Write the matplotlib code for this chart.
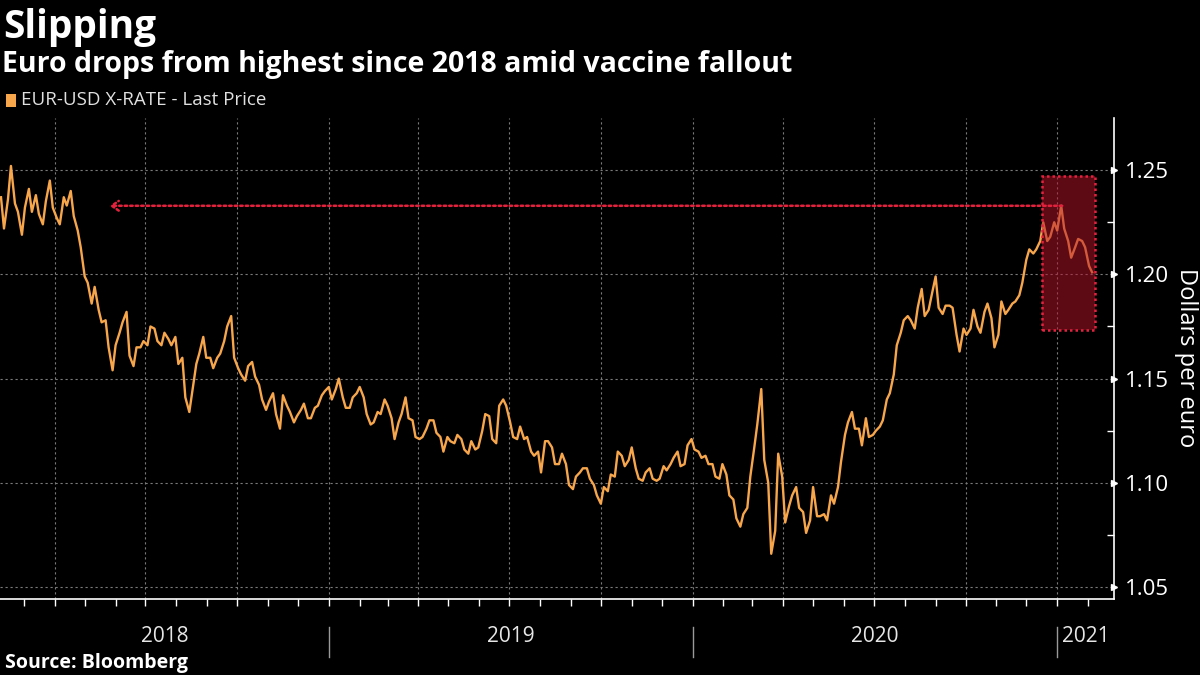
import matplotlib
matplotlib.use('Agg')
import matplotlib.pyplot as plt
import matplotlib.dates as mdates
import matplotlib.transforms as mtransforms
import matplotlib.patches as mpatches
import pandas as pd
import numpy as np

plt.rcParams['font.family'] = ['Open Sans', 'DejaVu Sans']

# ---- data: EUR-USD, twice weekly (Tue, Fri), Feb 2018 - Feb 2021 ----
start_tue = '2018-02-06'
end_tue = '2021-02-02'
start_fri = '2018-02-09'
end_fri = '2021-02-05'

eurusd = [
    # 2018
    1.237, 1.222, 1.236, 1.252, 1.234, 1.230, 1.219, 1.232, 1.241, 1.230,
    1.238, 1.229, 1.224, 1.235, 1.245, 1.232, 1.227, 1.224, 1.237, 1.233,
    1.240, 1.228, 1.221, 1.213, 1.199, 1.196, 1.186, 1.194, 1.183, 1.177,
    1.178, 1.165, 1.154, 1.166, 1.172, 1.177, 1.182, 1.161, 1.156, 1.165,
    1.165, 1.168, 1.166, 1.175, 1.174, 1.168, 1.166, 1.172, 1.169, 1.166,
    1.170, 1.157, 1.160, 1.141, 1.134, 1.144, 1.157, 1.162, 1.170, 1.160,
    1.160, 1.155, 1.160, 1.162, 1.168, 1.175, 1.180, 1.160, 1.155, 1.152,
    1.149, 1.156, 1.158, 1.151, 1.147, 1.140, 1.135, 1.139, 1.143, 1.133,
    1.126, 1.142, 1.137, 1.134, 1.129, 1.132, 1.135, 1.138, 1.131, 1.131,
    1.136, 1.137, 1.142, 1.144,
    # 2019
    1.146, 1.140, 1.145, 1.150, 1.141, 1.136, 1.136, 1.141, 1.143, 1.146,
    1.141, 1.133, 1.128, 1.129, 1.134, 1.133, 1.140, 1.137, 1.131, 1.121,
    1.129, 1.133, 1.141, 1.131, 1.130, 1.122, 1.121, 1.122, 1.126, 1.130,
    1.130, 1.124, 1.122, 1.115, 1.122, 1.120, 1.119, 1.123, 1.121, 1.116,
    1.114, 1.120, 1.116, 1.117, 1.125, 1.133, 1.132, 1.121, 1.119, 1.137,
    1.140, 1.137, 1.129, 1.122, 1.121, 1.127, 1.121, 1.122, 1.115, 1.113,
    1.115, 1.105, 1.120, 1.120, 1.117, 1.109, 1.109, 1.114, 1.109, 1.099,
    1.097, 1.103, 1.105, 1.107, 1.107, 1.102, 1.099, 1.094, 1.090, 1.098,
    1.096, 1.104, 1.103, 1.115, 1.113, 1.108, 1.111, 1.117, 1.107, 1.102,
    1.101, 1.105, 1.107, 1.102, 1.101, 1.102, 1.108, 1.106, 1.109, 1.112,
    1.115, 1.108, 1.109, 1.118,
    # 2020
    1.121, 1.116, 1.115, 1.112, 1.113, 1.109, 1.109, 1.103, 1.102, 1.109,
    1.104, 1.094, 1.092, 1.083, 1.079, 1.085, 1.088, 1.103, 1.117, 1.128,
    1.145, 1.111, 1.100, 1.066, 1.077, 1.114, 1.103, 1.081, 1.089, 1.094,
    1.098, 1.088, 1.086, 1.076, 1.082, 1.098, 1.084, 1.084, 1.085, 1.082,
    1.094, 1.090, 1.098, 1.110, 1.123, 1.129, 1.134, 1.126, 1.126, 1.118,
    1.131, 1.122, 1.123, 1.125, 1.127, 1.130, 1.140, 1.143, 1.152, 1.166,
    1.172, 1.178, 1.180, 1.178, 1.174, 1.184, 1.193, 1.180, 1.183, 1.190,
    1.199, 1.184, 1.181, 1.185, 1.185, 1.184, 1.171, 1.163, 1.174, 1.171,
    1.174, 1.183, 1.175, 1.172, 1.182, 1.186, 1.179, 1.165, 1.171, 1.187,
    1.181, 1.183, 1.186, 1.187, 1.190, 1.196, 1.207, 1.212, 1.210, 1.212,
    1.216, 1.225, 1.216, 1.218, 1.225, 1.221,
    # 2021
    1.233, 1.222, 1.216, 1.208, 1.213, 1.217, 1.216, 1.213, 1.204, 1.201,
]

# annotation values
peak_level = 1.2329
arrow_start = '2018-05-26'
peak_date = '2021-01-06'
box_dates = ['2020-12-17', '2021-02-08']
box_levels = [1.1735, 1.247]

yticks_major = [1.05, 1.10, 1.15, 1.20, 1.25]
yticks_minor = [1.075, 1.125, 1.175, 1.225]
year_labels = ['2018', '2019', '2020', '2021']
xlim = ['2018-02-05', '2021-02-27']
ylim = [1.0443, 1.275]

# ---- colours ----
BG = '#000000'
ORANGE = '#f7a64c'
RED = '#e3223d'
GRID = '#7a7a7a'

tue = pd.date_range(start_tue, end_tue, freq='W-TUE')
fri = pd.date_range(start_fri, end_fri, freq='W-FRI')
dates = tue.append(fri).sort_values()
series = pd.Series(eurusd[:len(dates)], index=dates[:len(eurusd)])

fig = plt.figure(figsize=(12, 6.75), dpi=100, facecolor=BG)
ax = fig.add_axes([0.0, 1 - 599 / 675, 1114 / 1200, (599 - 118) / 675])
ax.set_facecolor(BG)

ax.plot(series.index, series.values, color=ORANGE, lw=1.7, zorder=3)

x0, x1 = pd.Timestamp(xlim[0]), pd.Timestamp(xlim[1])
ax.set_xlim(x0, x1)
ax.set_ylim(*ylim)

# highlight box
bx0 = mdates.date2num(pd.Timestamp(box_dates[0]))
bx1 = mdates.date2num(pd.Timestamp(box_dates[1]))
ax.add_patch(mpatches.Rectangle((bx0, box_levels[0]), bx1 - bx0, box_levels[1] - box_levels[0],
                                facecolor='#b3142a', alpha=0.52, edgecolor='none', zorder=4))
ax.add_patch(mpatches.Rectangle((bx0, box_levels[0]), bx1 - bx0, box_levels[1] - box_levels[0],
                                facecolor='none', edgecolor=RED, lw=1.8,
                                linestyle=(0, (1, 1.2)), zorder=5))

# dotted arrow back to 2018
ax.annotate('', xy=(pd.Timestamp(arrow_start), peak_level),
            xytext=(pd.Timestamp(peak_date), peak_level),
            arrowprops=dict(arrowstyle='->,head_length=0.5,head_width=0.35', color=RED,
                            lw=1.8, linestyle=(0, (1, 1.2)), shrinkA=0, shrinkB=0),
            zorder=5)

# axes styling
for s in ['top', 'left']:
    ax.spines[s].set_visible(False)
for s in ['bottom', 'right']:
    ax.spines[s].set_color('white')
    ax.spines[s].set_linewidth(1.2)

ax.xaxis.set_major_locator(mdates.MonthLocator(bymonth=[1, 4, 7, 10]))
ax.xaxis.set_minor_locator(mdates.MonthLocator())
ax.tick_params(axis='x', which='both', direction='out', length=5, width=1,
               color='white', labelbottom=False)
ax.grid(axis='x', which='major', color=GRID, linestyle=(0, (2, 2.5)), lw=0.8)

ax.yaxis.tick_right()
ax.set_yticks(yticks_major)
ax.set_yticks(yticks_minor, minor=True)
ax.set_yticklabels([f'{v:.2f}' for v in yticks_major])
ax.tick_params(axis='y', which='major', length=0, pad=8, labelsize=16,
               labelcolor='white')
ax.tick_params(axis='y', which='minor', direction='in', length=5, width=1, color='white')
ax.grid(axis='y', which='major', color=GRID, linestyle=(0, (2, 2.5)), lw=0.8)

trans_y = mtransforms.blended_transform_factory(ax.transAxes, ax.transData)
ax.plot([1.0] * len(yticks_major), yticks_major, linestyle='none', marker='>',
        markersize=5, color='white', transform=trans_y, clip_on=False, zorder=6)

fig.text(1186 / 1200, 1 - 358 / 675, 'Dollars per euro', color='white', fontsize=17,
         rotation=270, ha='center', va='center')

# year separators and labels
trans_x = mtransforms.blended_transform_factory(ax.transData, ax.transAxes)
bounds = [x0] + [pd.Timestamp(f'{y}-01-01') for y in year_labels[1:]] + [x1]
for b in bounds[1:-1]:
    ax.plot([b, b], [-0.058, -0.121], color='#9a9a9a', lw=1, transform=trans_x,
            clip_on=False)
for lab, a, b in zip(year_labels, bounds[:-1], bounds[1:]):
    mid = a + (b - a) / 2
    ax.text(mid, -0.077, lab, transform=trans_x, ha='center', va='center',
            color='#e6e6e6', fontsize=15)

# titles
fig.text(0.003, 0.988, 'Slipping', color='white', fontsize=28, fontweight='bold',
         va='top', ha='left')
fig.text(0.002, 0.926, 'Euro drops from highest since 2018 amid vaccine fallout',
         color='white', fontsize=20.5, fontweight='bold', va='top', ha='left')
fig.patches.append(mpatches.Rectangle((6 / 1200, 1 - 107 / 675), 10 / 1200, 13 / 675,
                                      transform=fig.transFigure, facecolor=ORANGE,
                                      edgecolor='none'))
fig.text(21 / 1200, 1 - 100 / 675, 'EUR-USD X-RATE - Last Price', color='#e0e0e0',
         fontsize=13.5, va='center', ha='left')
fig.text(0.004, 1 - 663 / 675, 'Source: Bloomberg', color='white', fontsize=14,
         fontweight='bold', va='center', ha='left')

fig.savefig('out.png', dpi=100, facecolor=BG)
